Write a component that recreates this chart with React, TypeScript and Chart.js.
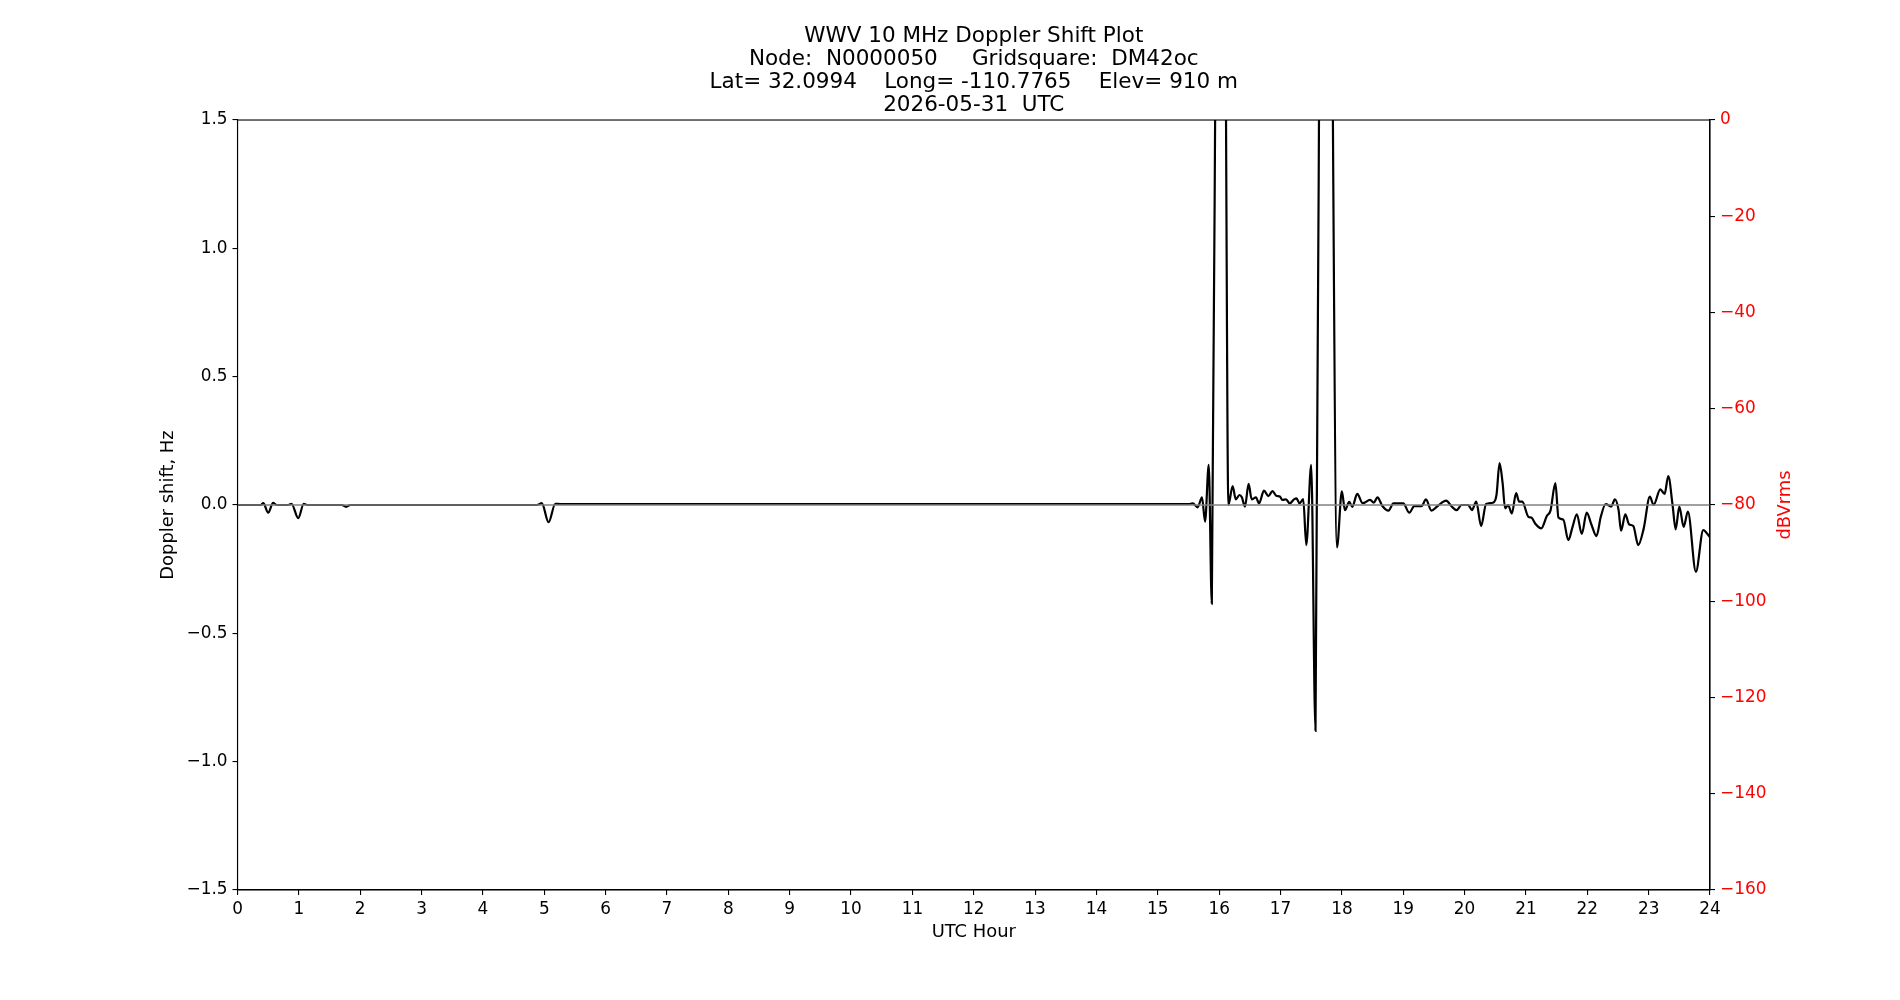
import React, { useEffect, useRef } from 'react';
import { Chart, registerables } from 'chart.js';

Chart.register(...registerables);

const TITLE_LINES = [
  'WWV 10 MHz Doppler Shift Plot',
  'Node:  N0000050     Gridsquare:  DM42oc',
  'Lat= 32.0994    Long= -110.7765    Elev= 910 m',
  '2026-05-31  UTC',
];

const X_LABEL = 'UTC Hour';
const Y_LABEL = 'Doppler shift, Hz';
const Y2_LABEL = 'dBVrms';

// UTC hour of each sample
const HOURS = [
  0, 0.38, 0.42, 0.5, 0.58, 0.64, 0.82, 0.88, 0.99, 1.08, 1.14, 1.7, 1.77, 1.84,
  4.88, 4.96, 5.07, 5.18, 5.26, 15.5, 15.57, 15.65, 15.72, 15.77, 15.83, 15.88,
  15.96, 16.03, 16.1, 16.15, 16.22, 16.27, 16.33, 16.37, 16.42, 16.48, 16.53,
  16.6, 16.65, 16.73, 16.8, 16.87, 16.93, 16.99, 17.03, 17.09, 17.15, 17.22,
  17.26, 17.31, 17.37, 17.42, 17.5, 17.57, 17.66, 17.75, 17.82, 17.92, 18.0,
  18.05, 18.12, 18.17, 18.25, 18.34, 18.46, 18.52, 18.58, 18.66, 18.76, 18.84,
  19.0, 19.1, 19.18, 19.3, 19.37, 19.46, 19.56, 19.7, 19.79, 19.87, 19.95, 20.06,
  20.12, 20.19, 20.27, 20.35, 20.46, 20.52, 20.57, 20.62, 20.66, 20.71, 20.77,
  20.84, 20.89, 20.94, 21.04, 21.09, 21.15, 21.25, 21.34, 21.4, 21.48, 21.53,
  21.61, 21.69, 21.76, 21.83, 21.91, 21.99, 22.07, 22.15, 22.22, 22.3, 22.39,
  22.45, 22.51, 22.55, 22.62, 22.68, 22.75, 22.83, 22.92, 23.02, 23.08, 23.19,
  23.26, 23.32, 23.39, 23.44, 23.5, 23.57, 23.64, 23.77, 23.89, 24.0,
];

// Doppler shift (Hz) at each sample
const DOPPLER = [
  0, 0, 0.007, -0.03, 0.008, 0, 0, 0.005, -0.051, 0.005, 0, 0, -0.007, 0,
  0, 0.007, -0.067, 0.005, 0.004, 0.004, 0.006, -0.009, 0.03, -0.065, 0.156, -0.384,
  2.6, 3.5, 2.0, 0.0, 0.074, 0.022, 0.039, 0.03, -0.006, 0.082, 0.022,
  0.03, 0.006, 0.056, 0.035, 0.054, 0.036, 0.033, 0.02, 0.022, 0.006, 0.022,
  0.026, 0.006, 0.023, -0.156, 0.156, -0.88, 3.2, 4.5, 2.65, -0.165, 0.053,
  -0.02, 0.012, -0.007, 0.043, 0.007, 0.02, 0.009, 0.03, -0.004, -0.022, 0.006,
  0.006, -0.03, -0.004, -0.004, 0.022, -0.022, -0.004, 0.017, -0.006, -0.02, 0, 0,
  -0.02, 0.013, -0.082, 0.004, 0.009, 0.039, 0.163, 0.085, -0.013, 0, -0.033,
  0.046, 0.013, 0.013, -0.046, -0.049, -0.072, -0.091, -0.043, -0.022, 0.085, -0.049,
  -0.057, -0.137, -0.085, -0.036, -0.113, -0.03, -0.078, -0.121, -0.046, 0.004, -0.006,
  0.022, -0.02, -0.1, -0.036, -0.075, -0.082, -0.156, -0.091, 0.033, 0, 0.061,
  0.043, 0.113, 0, -0.095, -0.006, -0.085, -0.026, -0.26, -0.098, -0.126,
];

const ZERO_LINE_X = [0, 24];
const ZERO_LINE_Y = [0, 0];

const X_MIN = 0;
const X_MAX = 24;
const X_STEP = 1;
const Y_MIN = -1.5;
const Y_MAX = 1.5;
const Y_STEP = 0.5;
const Y2_MIN = -160;
const Y2_MAX = 0;
const Y2_STEP = 20;

const FONT = 'DejaVu Sans';
const LABEL_SIZE = 17.9;
const minus = (s: string) => s.replace('-', '\u2212');

const framePlugin = {
  id: 'frameAndRightLabel',
  afterDraw(chart: any) {
    const { ctx, chartArea: a } = chart;
    ctx.save();
    ctx.strokeStyle = '#000';
    ctx.lineWidth = 1.1;
    ctx.strokeRect(a.left, a.top, a.right - a.left, a.bottom - a.top);
    ctx.translate(a.right + 75, (a.top + a.bottom) / 2);
    ctx.rotate(-Math.PI / 2);
    ctx.fillStyle = '#ff0000';
    ctx.font = `${LABEL_SIZE}px "${FONT}"`;
    ctx.textAlign = 'center';
    ctx.textBaseline = 'middle';
    ctx.fillText(Y2_LABEL, 0, 0);
    ctx.restore();
  },
};

export default function App() {
  const ref = useRef<HTMLCanvasElement | null>(null);

  useEffect(() => {
    if (!ref.current) return;
    const tickGrid = {
      drawOnChartArea: false,
      drawTicks: true,
      tickLength: 5,
      color: '#000',
      tickColor: '#000',
      lineWidth: 1.1,
    };
    const border = { display: true, color: '#000', width: 1.1 };
    const tickFont = { family: FONT, size: 16.9, lineHeight: 1.2 };

    const chart = new Chart(ref.current, {
      type: 'line',
      data: {
        datasets: [
          {
            label: 'zero',
            data: ZERO_LINE_X.map((x, i) => ({ x, y: ZERO_LINE_Y[i] })),
            borderColor: '#808080',
            borderWidth: 1.3,
            pointRadius: 0,
            tension: 0,
            yAxisID: 'y',
          },
          {
            label: 'Doppler',
            data: HOURS.map((x, i) => ({ x, y: DOPPLER[i] })),
            borderColor: '#000',
            borderWidth: 2.2,
            pointRadius: 0,
            cubicInterpolationMode: 'monotone',
            capBezierPoints: false,
            clip: 0,
            yAxisID: 'y',
          },
          {
            label: 'dBVrms',
            data: [],
            borderColor: '#ff0000',
            pointRadius: 0,
            yAxisID: 'y1',
          },
        ],
      },
      options: {
        animation: false,
        responsive: false,
        maintainAspectRatio: false,
        events: [],
        layout: { padding: 0 },
        plugins: {
          legend: { display: false },
          tooltip: { enabled: false },
          title: {
            display: true,
            fullSize: false,
            text: TITLE_LINES,
            color: '#000',
            font: { family: FONT, size: 21.5, weight: 'normal', lineHeight: 1.07 },
            padding: { top: 25, bottom: 3 },
          },
        },
        scales: {
          x: {
            type: 'linear',
            position: 'bottom',
            min: X_MIN,
            max: X_MAX,
            grid: tickGrid,
            border,
            ticks: {
              stepSize: X_STEP,
              autoSkip: false,
              maxRotation: 0,
              color: '#000',
              font: tickFont,
              padding: 4,
              callback: (v: any) => String(v),
            },
            title: {
              display: true,
              text: X_LABEL,
              color: '#000',
              font: { family: FONT, size: LABEL_SIZE, lineHeight: 1.2 },
              padding: { top: 0, bottom: 57 },
            },
            afterFit: (s: any) => {
              s.height = 110;
            },
          },
          y: {
            type: 'linear',
            position: 'left',
            min: Y_MIN,
            max: Y_MAX,
            grid: tickGrid,
            border,
            ticks: {
              stepSize: Y_STEP,
              autoSkip: false,
              color: '#000',
              font: tickFont,
              padding: 5,
              callback: (v: any) => minus((Math.abs(v) < 1e-9 ? 0 : v).toFixed(1)),
            },
            title: {
              display: true,
              text: Y_LABEL,
              color: '#000',
              font: { family: FONT, size: LABEL_SIZE, lineHeight: 1.2 },
              padding: { top: 157.5, bottom: 0 },
            },
            afterFit: (s: any) => {
              s.width = 237.5;
            },
          },
          y1: {
            type: 'linear',
            position: 'right',
            min: Y2_MIN,
            max: Y2_MAX,
            grid: tickGrid,
            border,
            ticks: {
              stepSize: Y2_STEP,
              autoSkip: false,
              color: '#ff0000',
              font: tickFont,
              padding: 5,
              callback: (v: any) => minus(String(Math.round(v))),
            },
            afterFit: (s: any) => {
              s.width = 190;
            },
          },
        },
      },
      plugins: [framePlugin],
    } as any);

    return () => chart.destroy();
  }, []);

  return (
    <div style={{ position: 'absolute', left: 0, top: 0, width: 1900, height: 1000, background: '#fff' }}>
      <canvas ref={ref} width={1900} height={1000} style={{ display: 'block', width: 1900, height: 1000 }} />
    </div>
  );
}
